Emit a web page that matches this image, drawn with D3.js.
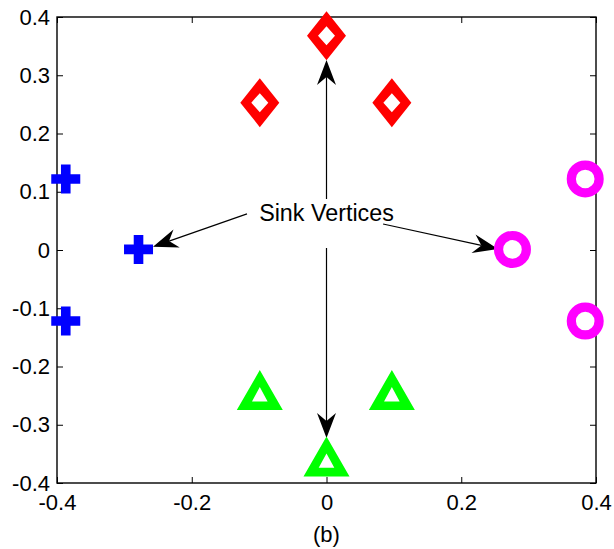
<!DOCTYPE html>
<html><head><meta charset="utf-8">
<script src="https://cdn.jsdelivr.net/npm/d3@7"></script>
<style>body{margin:0;background:#fff}svg{display:block}</style>
</head><body>
<script>
// Data
const xTicks = [-0.4, -0.2, 0, 0.2, 0.4];
const yTicks = [-0.4, -0.3, -0.2, -0.1, 0, 0.1, 0.2, 0.3, 0.4];
const xTickLabels = ["-0.4", "-0.2", "0", "0.2", "0.4"];
const yTickLabels = ["-0.4", "-0.3", "-0.2", "-0.1", "0", "0.1", "0.2", "0.3", "0.4"];
const plusPts = [[-0.387, 0.122], [-0.387, -0.122], [-0.279, 0.001]];
const diamondPts = [[0, 0.368], [-0.099, 0.253], [0.097, 0.253]];
const circlePts = [[0.276, 0.001], [0.384, 0.122], [0.384, -0.122]];
const trianglePts = [[-0.099, -0.252], [0.097, -0.252], [0, -0.366]];
const annotationText = "Sink Vertices";
const annotationPos = [0, 0.0635];
const arrows = [
  [[-0.118, 0.062], [-0.2575, 0.0057]],
  [[0.084, 0.0446], [0.2545, 0.0017]],
  [[0, 0.0876], [0, 0.326]],
  [[0, 0.0034], [0, -0.3227]]
];
const xLabel = "(b)";

const W = 614, H = 549;
const m = {left: 57, right: 596, top: 17, bottom: 483};
const svg = d3.select("body").append("svg").attr("width", W).attr("height", H)
  .style("font-family", "'Liberation Sans', Arial, sans-serif");

const x = d3.scaleLinear().domain([-0.4, 0.4]).range([m.left, m.right]);
const y = d3.scaleLinear().domain([-0.4, 0.4]).range([m.bottom, m.top]);
const FS = 22;

function styleAxis(g) {
  g.select(".domain").remove();
  g.selectAll("line").attr("stroke", "#000").attr("stroke-width", 1);
  g.selectAll("text").attr("font-size", FS).attr("fill", "#000").attr("font-family", "'Liberation Sans', Arial, sans-serif");
}
svg.append("g").attr("transform", `translate(0,${m.bottom})`)
  .call(d3.axisBottom(x).tickValues(xTicks).tickFormat((d, i) => xTickLabels[i]).tickSizeInner(-6).tickSizeOuter(0).tickPadding(11.5))
  .call(styleAxis);
svg.append("g").attr("transform", `translate(${m.left},0)`)
  .call(d3.axisLeft(y).tickValues(yTicks).tickFormat((d, i) => yTickLabels[i]).tickSizeInner(-6).tickSizeOuter(0).tickPadding(7))
  .call(styleAxis);
svg.append("g").attr("transform", `translate(0,${m.top})`)
  .call(d3.axisTop(x).tickValues(xTicks).tickFormat("").tickSizeInner(-6).tickSizeOuter(0))
  .call(styleAxis);
svg.append("g").attr("transform", `translate(${m.right},0)`)
  .call(d3.axisRight(y).tickValues(yTicks).tickFormat("").tickSizeInner(-6).tickSizeOuter(0))
  .call(styleAxis);
svg.append("rect").attr("x", m.left).attr("y", m.top)
  .attr("width", m.right - m.left).attr("height", m.bottom - m.top)
  .attr("fill", "none").attr("stroke", "#000").attr("stroke-width", 1.4);

// x label
svg.append("text").attr("x", x(0)).attr("y", 542).attr("text-anchor", "middle")
  .attr("font-size", FS).text(xLabel);

// arrows
const arrowG = svg.append("g");
arrows.forEach(([s, e]) => {
  const x1 = x(s[0]), y1 = y(s[1]), x2 = x(e[0]), y2 = y(e[1]);
  const ang = Math.atan2(y2 - y1, x2 - x1);
  const L = 25, w = 9.5, notch = 17;
  arrowG.append("line").attr("x1", x1).attr("y1", y1)
    .attr("x2", x2 - Math.cos(ang) * notch).attr("y2", y2 - Math.sin(ang) * notch)
    .attr("stroke", "#000").attr("stroke-width", 1.2);
  arrowG.append("path")
    .attr("d", `M0,0 L${-L},${w} L${-notch},0 L${-L},${-w} Z`)
    .attr("transform", `translate(${x2},${y2}) rotate(${ang * 180 / Math.PI})`)
    .attr("fill", "#000");
});

// annotation text
svg.append("text").attr("x", x(annotationPos[0])).attr("y", y(annotationPos[1]))
  .attr("text-anchor", "middle").attr("dy", "0.36em").attr("font-size", 23.3)
  .text(annotationText);

// markers
const mk = svg.append("g");
mk.selectAll(".plus").data(plusPts).join("path")
  .attr("transform", d => `translate(${x(d[0])},${y(d[1])})`)
  .attr("d", "M-14.5,-4.8 H-4.8 V-14.5 H4.8 V-4.8 H14.5 V4.8 H4.8 V14.5 H-4.8 V4.8 H-14.5 Z")
  .attr("fill", "#0000ff");
mk.selectAll(".dia").data(diamondPts).join("path")
  .attr("transform", d => `translate(${x(d[0])},${y(d[1])})`)
  .attr("d", "M0,-24.5 L19.5,0 L0,24.5 L-19.5,0 Z M0,-9.5 L-8.5,0 L0,9.5 L8.5,0 Z")
  .attr("fill-rule", "evenodd").attr("fill", "#ff0000");
mk.selectAll(".circ").data(circlePts).join("circle")
  .attr("cx", d => x(d[0])).attr("cy", d => y(d[1])).attr("r", 13.9)
  .attr("fill", "none").attr("stroke", "#ff00ff").attr("stroke-width", 9.2);
mk.selectAll(".tri").data(trianglePts).join("path")
  .attr("transform", d => `translate(${x(d[0])},${y(d[1])})`)
  .attr("d", "M0,-26.7 L23,13.3 L-23,13.3 Z M0,-9.7 L-7.8,4.6 L7.8,4.6 Z")
  .attr("fill-rule", "evenodd").attr("fill", "#00ff00");
</script>
</body></html>
